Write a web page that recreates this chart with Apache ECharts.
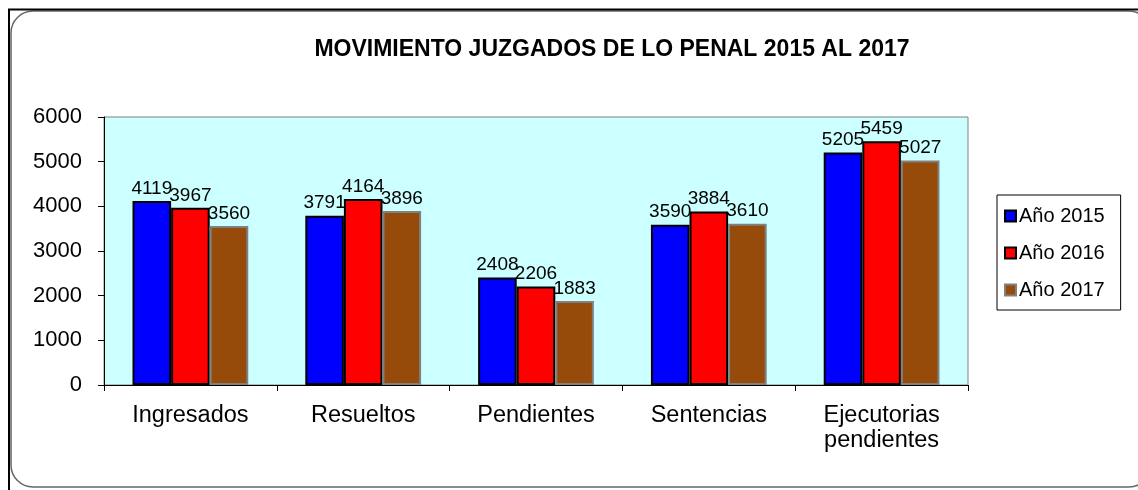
<!DOCTYPE html>
<html>
<head>
<meta charset="utf-8">
<script src="https://cdn.jsdelivr.net/npm/echarts@6/dist/echarts.min.js"></script>
<style>html,body{margin:0;padding:0;background:#fff}#c{width:1138px;height:490px}</style>
</head>
<body>
<div id="c"></div>
<script>
const title = 'MOVIMIENTO JUZGADOS DE LO PENAL 2015 AL 2017';
const categories = ['Ingresados', 'Resueltos', 'Pendientes', 'Sentencias', 'Ejecutorias\npendientes'];
const seriesNames = ['Año 2015', 'Año 2016', 'Año 2017'];
const values2015 = [4119, 3791, 2408, 3590, 5205];
const values2016 = [3967, 4164, 2206, 3884, 5459];
const values2017 = [3560, 3896, 1883, 3610, 5027];
const yTicks = [0, 1000, 2000, 3000, 4000, 5000, 6000];

const FONT = 'Arial, "Liberation Sans", sans-serif';
const fills = ['#0000FF', '#FF0000', '#964B0A'];
const borders = ['#000000', '#000000', '#808080'];
const allValues = [values2015, values2016, values2017];

const chart = echarts.init(document.getElementById('c'), null, {renderer: 'canvas'});
chart.setOption({
  animation: false,
  backgroundColor: '#ffffff',
  textStyle: {fontFamily: FONT},
  title: {
    text: title,
    left: 607, top: 33,
    textAlign: 'center',
    textStyle: {fontFamily: FONT, fontSize: 23, fontWeight: 'bold', color: '#000'}
  },
  graphic: [
    {type: 'rect', shape: {x: 11, y: 11, width: 1140, height: 476, r: 22}, style: {fill: 'none', stroke: '#666', lineWidth: 1.5}, silent: true, z: -1},
    {type: 'line', shape: {x1: 8, y1: 9.5, x2: 1138, y2: 9.5}, style: {stroke: '#000', lineWidth: 2}, silent: true},
    {type: 'line', shape: {x1: 9, y1: 9, x2: 9, y2: 490}, style: {stroke: '#000', lineWidth: 2}, silent: true}
  ],
  legend: {
    orient: 'vertical',
    left: 997, top: 195,
    padding: [11, 16, 10, 7],
    itemGap: 17,
    itemWidth: 11, itemHeight: 11,
    borderColor: '#000', borderWidth: 1,
    icon: 'rect',
    textStyle: {fontFamily: FONT, fontSize: 20, color: '#000', padding: [0, 0, 0, -2]},
    data: seriesNames
  },
  grid: {
    left: 104, right: 170, top: 117, bottom: 105,
    show: true, backgroundColor: '#CCFFFF', borderColor: '#808080', borderWidth: 1
  },
  xAxis: {
    type: 'category',
    data: categories,
    axisLine: {lineStyle: {color: '#000', width: 1}},
    axisTick: {show: true, length: 6, lineStyle: {color: '#000'}},
    axisLabel: {fontFamily: FONT, fontSize: 23.5, color: '#000', margin: 18, lineHeight: 25, interval: 0},
    splitLine: {show: false}
  },
  yAxis: {
    type: 'value',
    min: yTicks[0], max: yTicks[yTicks.length - 1], interval: 1000,
    axisLine: {show: true, lineStyle: {color: '#000', width: 1}},
    axisTick: {show: true, length: 6, lineStyle: {color: '#000'}},
    axisLabel: {fontFamily: FONT, fontSize: 22, color: '#000', margin: 22, formatter: v => String(v)},
    splitLine: {show: false}
  },
  series: seriesNames.map((name, i) => ({
    name: name,
    type: 'bar',
    data: allValues[i],
    barGap: '0%',
    barCategoryGap: '33%',
    itemStyle: {color: fills[i], borderColor: borders[i], borderWidth: 2},
    label: {
      show: true, position: 'top', distance: 3,
      fontFamily: FONT, fontSize: 19, color: '#000'
    }
  }))
});
</script>
</body>
</html>
